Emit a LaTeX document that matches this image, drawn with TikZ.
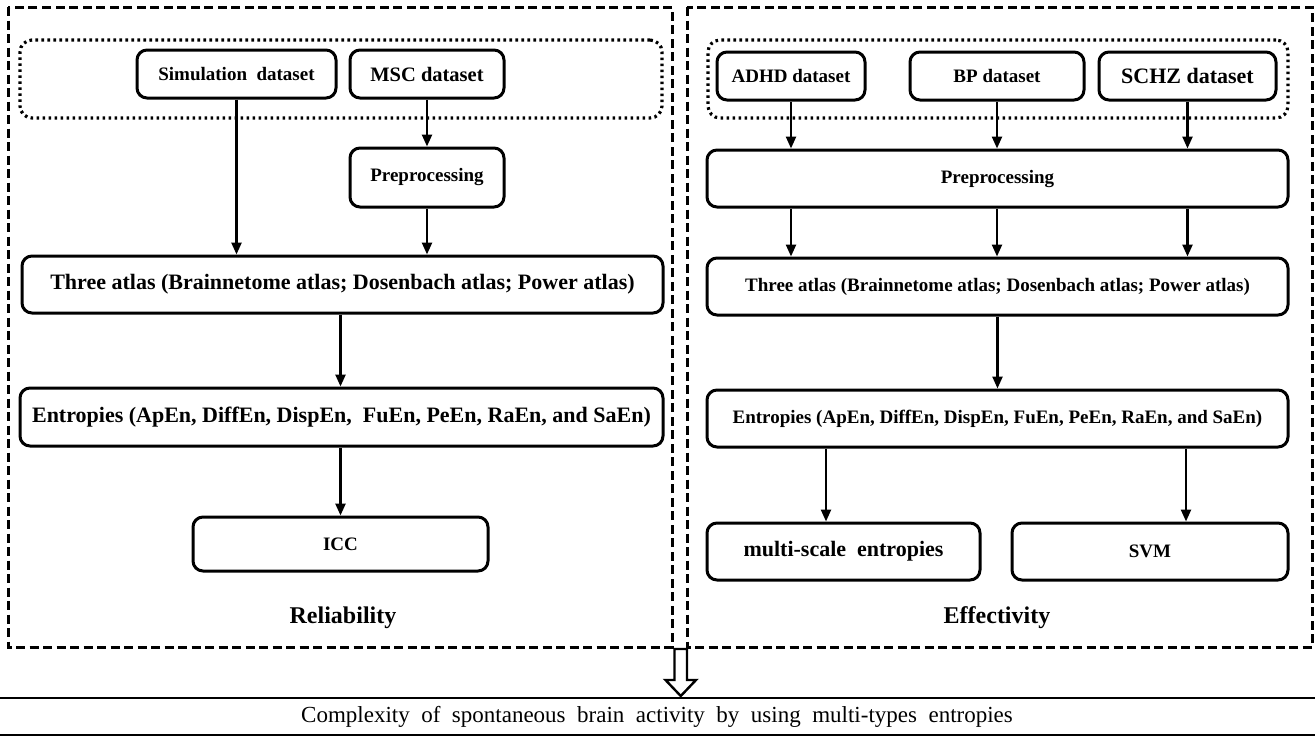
\documentclass[tikz,border=0pt]{standalone}
\usepackage{fontspec}
\setmainfont{Liberation Serif}
\usetikzlibrary{arrows.meta}
\tikzset{
  box/.style={draw, line width=3pt, rounded corners=10pt, inner sep=0pt, align=center,
    font=\bfseries\fontsize{19}{22}\selectfont},
  big/.style={font=\bfseries\fontsize{22}{26}\selectfont},
  panel/.style={draw, line width=3pt, dash pattern=on 9pt off 4.5pt},
  group/.style={draw, line width=3.2pt, rounded corners=12pt, dash pattern=on 2.6pt off 3.4pt, inner sep=0pt},
  flow/.style={line width=2.4pt, -{Triangle[length=12pt,width=10pt]}},
  title/.style={font=\bfseries\fontsize{24}{28}\selectfont},
}
\begin{document}
\begin{tikzpicture}[x=1pt,y=-1pt]
\useasboundingbox (0,0) rectangle (1315,737);
% panels
\draw[panel] (8,7) rectangle (672,647);
\draw[panel] (687,7) rectangle (1312,647);
% left panel
\node[group, minimum width=642pt, minimum height=78pt] (dotL) at (341,79) {};
\node[box, minimum width=199pt, minimum height=48pt] (sim) at (236.5,74) {Simulation\ \ dataset};
\node[box, font=\bfseries\fontsize{20.5}{24}\selectfont, minimum width=154pt, minimum height=48pt] (msc) at (427,74) {MSC dataset};
\node[box, minimum width=154pt, minimum height=59pt] (preL) at (427,177.5) {Preprocessing};
\node[box, big, minimum width=641pt, minimum height=57pt] (atlasL) at (342.5,284.5) {Three atlas (Brainnetome atlas; Dosenbach atlas; Power atlas)};
\node[box, big, minimum width=643pt, minimum height=58pt] (entL) at (341.5,417) {Entropies (ApEn, DiffEn, DispEn,\ \ FuEn, PeEn, RaEn, and SaEn)};
\node[box, minimum width=295pt, minimum height=54pt] (icc) at (340.5,544) {ICC};
\node[title] (rel) at (343,618) {Reliability};
\draw[flow] (sim.south) -- (sim.south |- atlasL.north);
\draw[flow] (msc.south) -- (preL.north);
\draw[flow] (preL.south) -- (preL.south |- atlasL.north);
\draw[flow] (icc.north |- atlasL.south) -- (icc.north |- entL.north);
\draw[flow] (icc.north |- entL.south) -- (icc.north);
% right panel
\node[group, minimum width=580pt, minimum height=78pt] (dotR) at (998,79) {};
\node[box, minimum width=148pt, minimum height=48pt] (adhd) at (791,76) {ADHD dataset};
\node[box, minimum width=174pt, minimum height=48pt] (bp) at (997,76) {BP dataset};
\node[box, font=\bfseries\fontsize{22}{26}\selectfont, minimum width=177pt, minimum height=48pt] (schz) at (1187.5,76) {SCHZ dataset};
\node[box, minimum width=581pt, minimum height=57pt] (preR) at (997.5,178.5) {Preprocessing};
\node[box, minimum width=581pt, minimum height=57pt] (atlasR) at (997.5,286.5) {Three atlas (Brainnetome atlas; Dosenbach atlas; Power atlas)};
\node[box, minimum width=581pt, minimum height=57pt] (entR) at (997.5,418.5) {Entropies (ApEn, DiffEn, DispEn, FuEn, PeEn, RaEn, and SaEn)};
\node[box, font=\bfseries\fontsize{22}{26}\selectfont, minimum width=273pt, minimum height=57pt] (ms) at (843.5,551.5) {multi-scale\ \ entropies};
\node[box, minimum width=276pt, minimum height=57pt] (svm) at (1150,551.5) {SVM};
\node[title] (eff) at (997,618) {Effectivity};
\draw[flow] (adhd.south) -- (adhd.south |- preR.north);
\draw[flow] (bp.south) -- (bp.south |- preR.north);
\draw[flow] (schz.south) -- (schz.south |- preR.north);
\draw[flow] (adhd.south |- preR.south) -- (adhd.south |- atlasR.north);
\draw[flow] (bp.south |- preR.south) -- (bp.south |- atlasR.north);
\draw[flow] (schz.south |- preR.south) -- (schz.south |- atlasR.north);
\draw[flow] (atlasR.south) -- (entR.north);
\coordinate (xa) at (826,0);
\coordinate (xb) at (1186,0);
\draw[flow] (entR.south -| xa) -- (ms.north -| xa);
\draw[flow] (entR.south -| xb) -- (svm.north -| xb);
% bottom band
\draw[line width=2.4pt] (0,698) -- (1315,698);
\draw[line width=2.4pt] (0,735) -- (1315,735);
\node[font=\fontsize{23}{26}\selectfont] (concl) at (657,717) {Complexity\ \ of\ \ spontaneous\ \ brain\ \ activity\ \ by\ \ using\ \ multi-types\ \ entropies};
% hollow arrow
\draw[line width=2.4pt, fill=white, line join=miter]
  (674.5,649) -- (687,649) -- (687,680) -- (696,680) -- (680.75,696) -- (665.5,680) -- (674.5,680) -- cycle;
\end{tikzpicture}
\end{document}
